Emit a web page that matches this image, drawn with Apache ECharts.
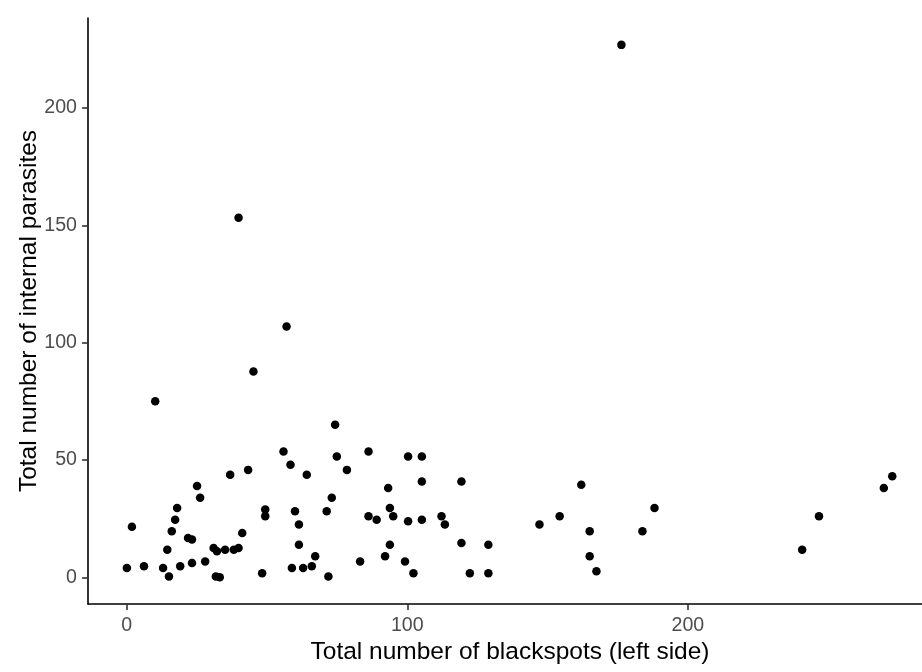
<!DOCTYPE html>
<html>
<head>
<meta charset="utf-8">
<script src="https://cdn.jsdelivr.net/npm/echarts@6/dist/echarts.min.js"></script>
<style>
html,body{margin:0;padding:0;background:#fff;}
#chart{width:922px;height:672px;}
</style>
</head>
<body>
<div id="chart"></div>
<script>
const xTitle = "Total number of blackspots (left side)";
const yTitle = "Total number of internal parasites";
const xTicks = [0, 100, 200];
const yTicks = [0, 50, 100, 150, 200];
const blackspots = [0.1, 1.9, 6.2, 10.2, 13.0, 14.5, 15.1, 16.1, 17.3, 18.0, 19.1, 21.9, 23.3, 23.3, 25.1, 26.2, 28.0, 31.0, 32.2, 31.8, 33.2, 35.1, 36.9, 38.2, 39.9, 41.2, 43.3, 45.2, 48.3, 49.4, 49.4, 55.9, 57.0, 58.4, 58.9, 60.0, 61.4, 61.4, 62.9, 64.2, 66.0, 67.2, 39.9, 71.3, 71.9, 73.1, 74.3, 74.9, 78.5, 83.2, 86.2, 86.2, 89.1, 92.1, 93.2, 93.8, 93.8, 95.0, 99.2, 100.3, 100.3, 102.2, 105.2, 105.2, 105.2, 112.2, 113.4, 119.3, 119.3, 122.3, 128.9, 128.9, 147.1, 154.3, 162.0, 165.0, 165.0, 167.4, 183.8, 188.1, 240.7, 246.7, 269.8, 272.8, 176.3];
const parasites = [4.0, 21.6, 4.7, 75.0, 4.0, 11.8, 0.4, 19.6, 24.5, 29.6, 4.7, 16.8, 16.1, 6.1, 38.9, 33.9, 6.8, 12.5, 11.1, 0.4, 0.0, 11.8, 43.7, 11.8, 12.5, 18.9, 45.8, 87.7, 1.8, 28.9, 26.0, 53.6, 106.9, 48.0, 4.0, 28.2, 22.5, 13.9, 4.0, 43.7, 4.7, 9.0, 153.2, 28.2, 0.4, 33.9, 65.0, 51.5, 45.8, 6.8, 53.6, 26.0, 24.6, 9.0, 38.1, 29.6, 13.9, 26.0, 6.8, 51.5, 23.9, 1.8, 51.5, 40.8, 24.6, 26.0, 22.5, 40.8, 14.6, 1.8, 13.9, 1.8, 22.5, 26.0, 39.5, 19.6, 9.0, 2.6, 19.6, 29.6, 11.8, 26.0, 38.1, 43.1, 226.9];

const points = blackspots.map((x, i) => [x, parasites[i]]);
const FONT = "'Liberation Sans', Arial, sans-serif";

const chart = echarts.init(document.getElementById('chart'), null, {renderer: 'canvas'});
chart.setOption({
  backgroundColor: '#ffffff',
  animation: false,
  grid: {left: 88, right: 0, top: 18, bottom: 68, containLabel: false},
  xAxis: {
    type: 'value',
    min: -13.75, max: 283.4,
    name: xTitle,
    nameLocation: 'middle',
    nameGap: 36,
    nameMoveOverlap: false,
    nameTextStyle: {color: '#000', fontSize: 24.5, fontFamily: FONT, padding: [0, 0, 0, 10]},
    splitLine: {show: false},
    axisLine: {show: true, onZero: false, lineStyle: {color: '#000', width: 1.6}},
    axisTick: {show: true, length: 6, customValues: xTicks, lineStyle: {color: '#333', width: 1.6}},
    axisLabel: {customValues: xTicks, color: '#4D4D4D', fontSize: 19.6, fontFamily: FONT, margin: 12}
  },
  yAxis: {
    type: 'value',
    min: -11.35, max: 238.35,
    name: yTitle,
    nameLocation: 'middle',
    nameGap: 46,
    nameMoveOverlap: false,
    nameRotate: 90,
    nameTextStyle: {color: '#000', fontSize: 24.5, fontFamily: FONT},
    splitLine: {show: false},
    axisLine: {show: true, onZero: false, lineStyle: {color: '#000', width: 1.6}},
    axisTick: {show: true, length: 6, customValues: yTicks, lineStyle: {color: '#333', width: 1.6}},
    axisLabel: {customValues: yTicks, color: '#4D4D4D', fontSize: 19.6, fontFamily: FONT, margin: 11}
  },
  series: [{
    type: 'scatter',
    data: points,
    symbol: 'circle',
    symbolSize: 8.5,
    itemStyle: {color: '#000', opacity: 1},
    clip: false
  }]
});
</script>
</body>
</html>
